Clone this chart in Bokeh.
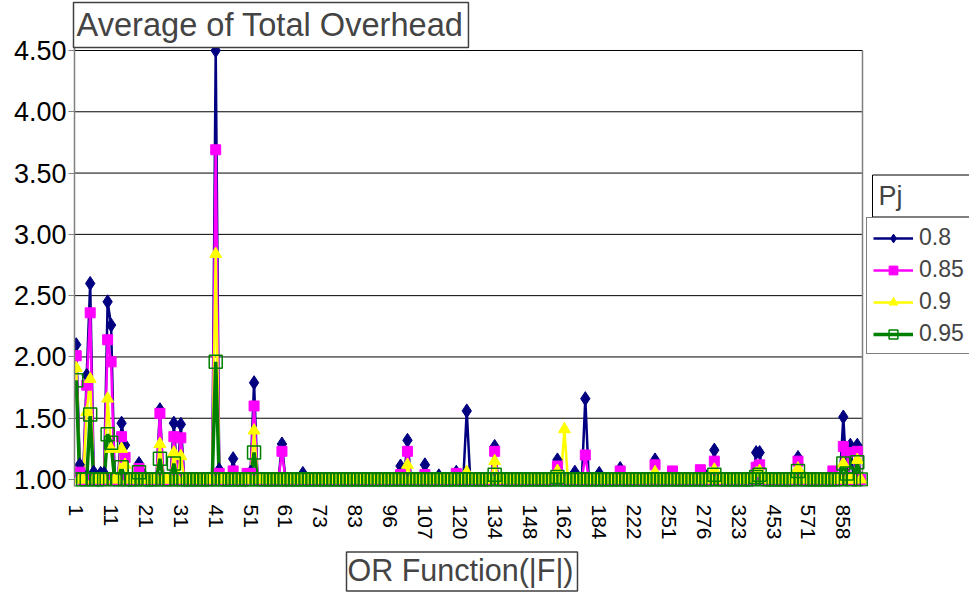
import math
from bokeh.plotting import figure
from bokeh.models import Range1d, FixedTicker, Label, Legend, LegendItem, ColumnDataSource, Title
from bokeh.embed import file_html
from bokeh.resources import INLINE

# ---------------- data ----------------
N_CATEGORIES = 226          # number of |F| categories on the axis
tick_index = [0, 10, 20, 30, 40, 50, 60, 70, 80, 90, 100, 110, 120, 130, 140,
              150, 160, 170, 180, 190, 200, 210, 220]
tick_labels = ["1", "11", "21", "31", "41", "51", "61", "73", "83", "96", "107",
               "120", "134", "148", "162", "184", "222", "251", "276", "323",
               "453", "571", "858"]

series_names = ["0.8", "0.85", "0.9", "0.95"]
base_value = 1.00   # value of every category not listed below

# category index -> Average of Total Overhead (values above 1.00)
peaks_08 = {0: 2.10, 1: 1.12, 2: 1.04, 3: 1.85, 4: 2.60, 5: 1.06, 7: 1.05, 8: 1.05,
            9: 2.45, 10: 2.26, 13: 1.46, 14: 1.28, 18: 1.13, 19: 1.05, 24: 1.57,
            28: 1.46, 30: 1.45, 40: 4.50, 41: 1.08, 45: 1.17, 50: 1.06, 51: 1.79,
            59: 1.29, 65: 1.05, 93: 1.11, 95: 1.32, 100: 1.12, 104: 1.03, 109: 1.06,
            112: 1.56, 120: 1.27, 138: 1.16, 143: 1.06, 146: 1.66, 150: 1.05,
            156: 1.09, 166: 1.16, 180: 1.05, 183: 1.24, 195: 1.22, 196: 1.22,
            207: 1.18, 220: 1.51, 222: 1.28, 224: 1.28}
peaks_085 = {0: 2.01, 1: 1.06, 3: 1.77, 4: 2.36, 9: 2.14, 10: 1.96, 13: 1.35, 14: 1.18,
             18: 1.09, 24: 1.54, 28: 1.35, 30: 1.34, 40: 3.69, 41: 1.05, 45: 1.07,
             49: 1.05, 50: 1.05, 51: 1.60, 59: 1.23, 93: 1.04, 95: 1.23, 100: 1.04,
             109: 1.05, 120: 1.23, 138: 1.11, 146: 1.20, 156: 1.07, 166: 1.12,
             171: 1.07, 179: 1.08, 183: 1.15, 195: 1.10, 196: 1.12, 207: 1.15,
             217: 1.07, 220: 1.27, 221: 1.22, 224: 1.23}
peaks_09 = {0: 1.91, 3: 1.55, 4: 1.82, 9: 1.66, 10: 1.25, 13: 1.25, 14: 1.12, 24: 1.29,
            28: 1.22, 30: 1.19, 40: 2.84, 51: 1.40, 95: 1.12, 112: 1.06, 120: 1.15,
            138: 1.07, 140: 1.41, 166: 1.06, 183: 1.08, 195: 1.05, 196: 1.07,
            207: 1.09, 220: 1.13, 224: 1.16}
peaks_095 = {0: 1.81, 4: 1.53, 9: 1.37, 10: 1.30, 13: 1.10, 18: 1.06, 24: 1.17,
             28: 1.13, 40: 1.96, 51: 1.22, 120: 1.04, 138: 1.02, 183: 1.04,
             195: 1.02, 196: 1.04, 207: 1.07, 220: 1.13, 221: 1.05, 224: 1.14}

y_ticks = [1.0, 1.5, 2.0, 2.5, 3.0, 3.5, 4.0, 4.5]


def series_values(peaks):
    vals = [base_value] * N_CATEGORIES
    for k, v in peaks.items():
        vals[k] = v
    return vals


all_peaks = [peaks_08, peaks_085, peaks_09, peaks_095]
colors = ["#000080", "#FF00FF", "#FFFF00", "#008000"]
markers = ["diamond", "square", "triangle", "square"]
marker_sizes = [14, 10, 12, 13]
line_widths = [2.5, 2.5, 2.5, 3.5]

FONT = "Liberation Sans"

# plot area spans categories -0.5 .. N-0.5 over 788 px; frame continues to the
# right edge so that the legend can sit there.
px_per_cat = 788.0 / N_CATEGORIES
x_end = -0.5 + 895.0 / px_per_cat
px_per_unit = 431.0 / 3.5
y_start = 1.0 - 7.0 / px_per_unit
y_end = 4.5 + 3.0 / px_per_unit

p = figure(width=969, height=598, output_backend="svg", toolbar_location=None,
           x_range=Range1d(-0.5, x_end), y_range=Range1d(y_start, y_end),
           min_border_left=74, min_border_right=0,
           min_border_top=46, min_border_bottom=111)
p.outline_line_color = None
p.background_fill_color = "white"
p.border_fill_color = "white"

# title box (top-left)
p.title.text = "Average of Total Overhead"
p.title.text_font = FONT
p.title.text_font_size = "32.6px"
p.title.text_font_style = "normal"
p.title.align = "left"
p.title.offset = -1
p.title.standoff = 0
p.title.border_line_color = "#404040"
p.title.border_line_width = 1.5
p.title.background_fill_color = "white"
p.title.padding = (3, 5, 3, 5)

# axes
p.yaxis.ticker = FixedTicker(ticks=y_ticks)
p.yaxis.major_label_overrides = {t: "%.2f" % t for t in y_ticks}
p.yaxis.axis_line_color = "#808080"
p.yaxis.axis_line_width = 1.5
p.yaxis.major_tick_line_color = "#808080"
p.yaxis.major_tick_out = 6
p.yaxis.major_tick_in = 0
p.yaxis.minor_tick_line_color = None
p.yaxis.major_label_text_font = FONT
p.yaxis.major_label_text_font_size = "27px"
p.yaxis.major_label_text_color = "black"
p.yaxis.major_label_standoff = 2

p.xaxis.ticker = FixedTicker(ticks=tick_index)
p.xaxis.major_label_overrides = {i: lab for i, lab in zip(tick_index, tick_labels)}
p.xaxis.major_label_orientation = -math.pi / 2
p.xaxis.axis_line_color = None
p.xaxis.major_tick_line_color = None
p.xaxis.minor_tick_line_color = None
p.xaxis.major_label_text_font = FONT
p.xaxis.major_label_text_font_size = "21px"
p.xaxis.major_label_text_color = "black"
p.xaxis.major_label_standoff = 12

p.grid.grid_line_color = None

# horizontal gridlines and right border of the plot area
n_t = len(y_ticks)
p.segment(x0=[-0.5] * n_t, y0=y_ticks, x1=[N_CATEGORIES - 0.5] * n_t, y1=y_ticks,
          line_color="black", line_width=1)
p.segment(x0=[N_CATEGORIES - 0.5], y0=[y_start], x1=[N_CATEGORIES - 0.5], y1=[4.5],
          line_color="#808080", line_width=1.5)

x_idx = list(range(N_CATEGORIES))
sources = [ColumnDataSource(dict(x=x_idx, y=series_values(pk))) for pk in all_peaks]

# all lines first, then all markers (as the original chart draws them)
line_rs = []
for src, c, lw in zip(sources, colors, line_widths):
    line_rs.append(p.line("x", "y", source=src, line_color=c, line_width=lw))

marker_rs = []
for name, src, c, m, ms in zip(series_names, sources, colors, markers, marker_sizes):
    if name == "0.95":
        sr = p.scatter("x", "y", source=src, marker=m, size=ms, fill_color=None,
                       line_color=c, line_width=1.5)
    else:
        sr = p.scatter("x", "y", source=src, marker=m, size=ms, fill_color=c,
                       line_color=c, line_width=1)
    marker_rs.append(sr)

items = [LegendItem(label=name, renderers=[lr, sr])
         for name, lr, sr in zip(series_names, line_rs, marker_rs)]

legend = Legend(items=items, location=(792, 132), border_line_color="black",
                border_line_width=1, background_fill_color="white",
                background_fill_alpha=1.0, label_text_font=FONT,
                label_text_font_size="23px", glyph_width=40, glyph_height=22,
                label_standoff=6, spacing=5, padding=6, margin=0)
p.add_layout(legend)

pj = Label(x=798, y=290.5, x_units="screen", y_units="screen", text="Pj",
           text_font=FONT, text_font_size="27px", text_align="left",
           text_baseline="middle", border_line_color="black", border_line_width=1,
           background_fill_color="white", padding=(6, 72, 6, 6))
p.add_layout(pj)

xtitle = Title(text="OR Function(|F|)", align="left", offset=272, standoff=15,
               text_font=FONT, text_font_size="30.5px", text_font_style="normal",
               border_line_color="#404040", border_line_width=1.5,
               background_fill_color="white", padding=(1, 4, 1, 4))
p.add_layout(xtitle, "below")

open("out.html", "w").write(file_html(p, INLINE))
